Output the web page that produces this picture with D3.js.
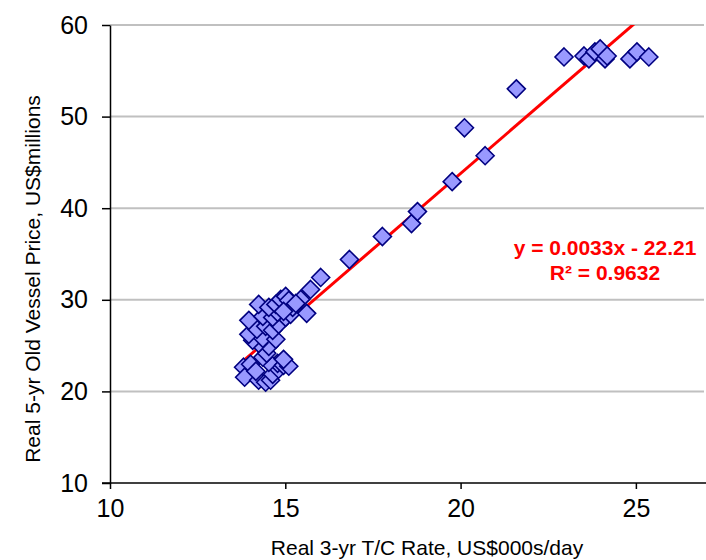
<!DOCTYPE html>
<html>
<head>
<meta charset="utf-8">
<script src="https://cdn.jsdelivr.net/npm/d3@7"></script>
<style>
  html, body { margin: 0; padding: 0; background: #fff; }
  svg { display: block; font-family: Arial, "Liberation Sans", sans-serif; }
</style>
</head>
<body>
<svg id="chart" width="706" height="560"></svg>
<script>
// Real 3-yr T/C rate (US$000s/day) against real 5-yr old vessel price (US$ millions)
const tcRate = [
  13.81, 13.84, 14.01, 14.24, 14.44, 14.58, 14.64, 14.81, 14.78, 14.53, 14.36, 14.95, 14.16, 15.10, 14.95,
  14.47, 14.53, 14.24, 14.07, 14.36, 14.73, 13.96, 14.19, 14.44, 14.64, 14.81, 15.01, 15.15, 13.96, 14.36,
  14.64, 14.78, 14.24, 14.53, 14.73, 14.87, 15.01, 15.10, 15.21, 15.44, 15.61, 15.72, 16.01, 14.95, 15.30,
  16.83, 17.77, 18.60, 18.77, 19.76, 20.70, 20.11, 21.59,
  22.95, 23.52, 23.66, 23.83, 23.98, 24.12, 24.18, 24.83, 25.03, 25.37
];
const vesselPrice = [
  22.64, 21.55, 22.96, 21.22, 21.00, 21.22, 21.87, 22.42, 23.07, 23.18, 23.73, 22.85, 22.20, 22.75, 23.50,
  24.16, 24.92, 25.25, 25.58, 25.80, 25.69, 26.23, 26.78, 27.10, 26.67, 27.32, 28.08, 28.41, 27.76, 28.19,
  28.08, 28.63, 29.50, 29.17, 29.50, 30.04, 30.37, 29.93, 29.17, 30.04, 28.52, 31.13, 32.44, 28.74, 29.60,
  34.40, 36.91, 38.32, 39.63, 42.90, 45.73, 48.78, 53.03,
  56.51, 56.62, 56.30, 57.06, 57.39, 56.30, 56.62, 56.30, 57.06, 56.51
];

// Linear trendline (rate in US$/day): y = 0.0033x - 22.21
const trendSlope = 0.0033;
const trendIntercept = -22.21;
const trendLabel = ["y = 0.0033x - 22.21", "R² = 0.9632"];

const xTicks = [10, 15, 20, 25];
const yTicks = [10, 20, 30, 40, 50, 60];
const xTitle = "Real 3-yr T/C Rate, US$000s/day";
const yTitle = "Real 5-yr Old Vessel Price, US$millions";

const points = tcRate.map((x, i) => ({ x, y: vesselPrice[i] }));

const svg = d3.select("#chart");
const margin = { left: 110, right: 0, top: 25, bottom: 77 };
const W = 706, H = 560;

const x = d3.scaleLinear().domain([10, 27]).range([margin.left, W - margin.right]);
const y = d3.scaleLinear().domain([10, 60]).range([H - margin.bottom, margin.top]);

svg.append("defs").append("clipPath").attr("id", "plotClip")
  .append("rect")
  .attr("x", x(10)).attr("y", y(60))
  .attr("width", x(27) - x(10)).attr("height", y(10) - y(60));

// Horizontal gridlines
svg.append("g")
  .selectAll("line")
  .data(yTicks.filter(t => t > 10))
  .join("line")
  .attr("x1", x(10)).attr("x2", x(27) - 2)
  .attr("y1", d => y(d)).attr("y2", d => y(d))
  .attr("stroke", "#c0c0c0").attr("stroke-width", 2);

// Axes
const xAxis = svg.append("g")
  .attr("transform", `translate(0,${y(10)})`)
  .call(d3.axisBottom(x).tickValues(xTicks).tickSize(6).tickPadding(10).tickSizeOuter(0));
const yAxis = svg.append("g")
  .attr("transform", `translate(${x(10)},0)`)
  .call(d3.axisLeft(y).tickValues(yTicks).tickSize(8).tickPadding(14).tickSizeOuter(0));

[xAxis, yAxis].forEach(g => {
  g.select(".domain").attr("stroke", "#000").attr("stroke-width", 1.5);
  g.selectAll(".tick line").attr("stroke", "#000").attr("stroke-width", 1.5);
  g.selectAll(".tick text")
    .attr("fill", "#000")
    .style("font-size", "25px")
    .style("font-family", "Arial, 'Liberation Sans', sans-serif");
});
// extend x-axis line to the left so the y=10 tick crosses it
xAxis.select(".domain").attr("d", `M${x(10) - 8},0H${x(27)}`);

// Trendline across the data range, clipped to the plot area
const xMin = d3.min(tcRate), xMax = d3.max(tcRate);
const trend = v => trendSlope * v * 1000 + trendIntercept;
svg.append("line")
  .attr("clip-path", "url(#plotClip)")
  .attr("x1", x(xMin)).attr("y1", y(trend(xMin)))
  .attr("x2", x(xMax)).attr("y2", y(trend(xMax)))
  .attr("stroke", "#ff0000").attr("stroke-width", 3);

// Diamond markers
const r = 9;
const diamond = `M0,${-r}L${r},0L0,${r}L${-r},0Z`;
svg.append("g")
  .selectAll("path")
  .data(points)
  .join("path")
  .attr("d", diamond)
  .attr("transform", d => `translate(${x(d.x)},${y(d.y)})`)
  .attr("fill", "#9999ff")
  .attr("stroke", "#000080")
  .attr("stroke-width", 1.6);

// Trend equation
const eq = svg.append("text")
  .attr("text-anchor", "middle")
  .attr("fill", "#ff0000")
  .style("font-weight", "bold")
  .style("font-size", "21px");
eq.append("tspan").attr("x", 605).attr("y", 255).text(trendLabel[0]);
eq.append("tspan").attr("x", 605).attr("y", 280).text(trendLabel[1]);

// Axis titles
svg.append("text")
  .attr("x", 427).attr("y", 555)
  .attr("text-anchor", "middle")
  .style("font-size", "21px")
  .text(xTitle);
svg.append("text")
  .attr("transform", `translate(40,${(y(10) + y(60)) / 2 + 25}) rotate(-90)`)
  .attr("text-anchor", "middle")
  .style("font-size", "21px")
  .text(yTitle);
</script>
</body>
</html>
